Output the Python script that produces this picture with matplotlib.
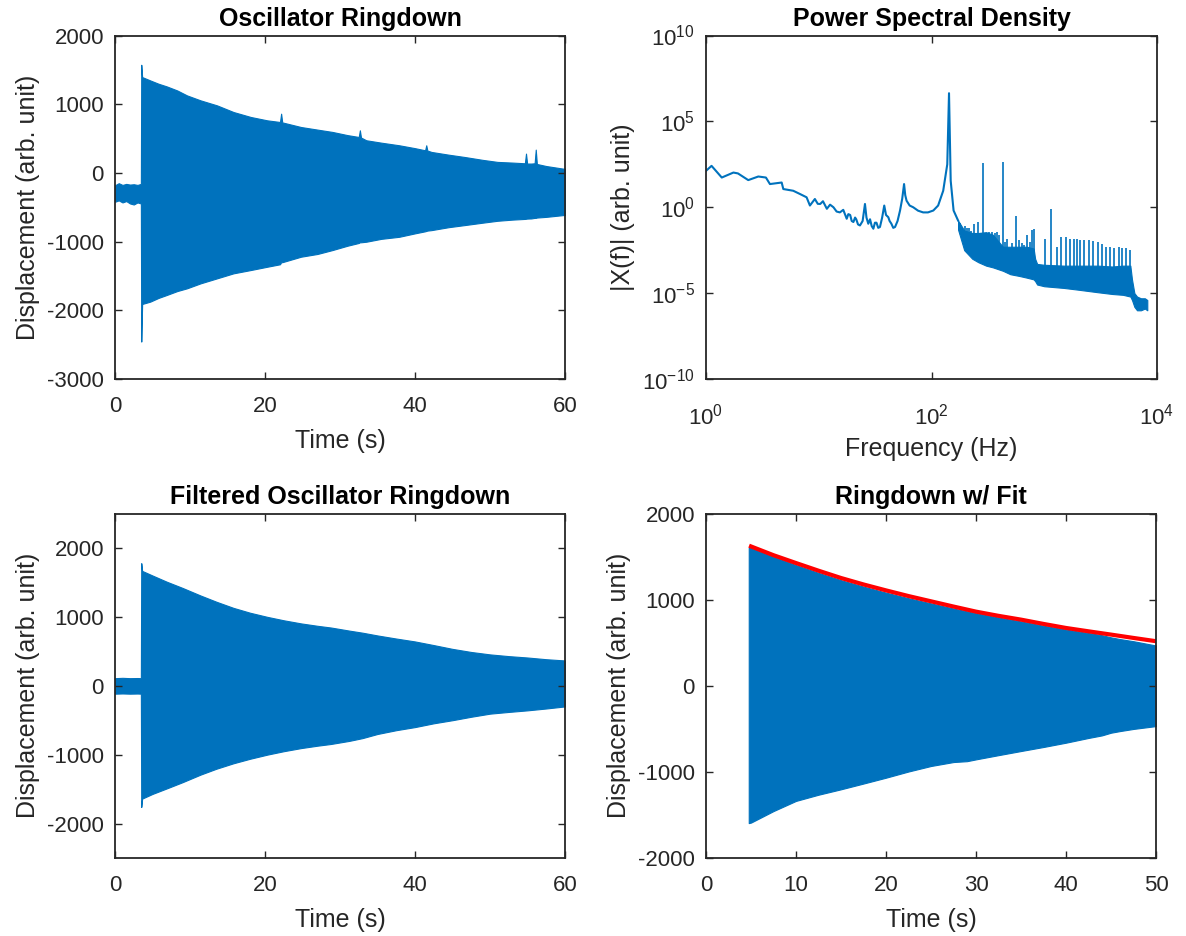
import numpy as np
import matplotlib
matplotlib.use("Agg")
import matplotlib.pyplot as plt

plt.rcParams['font.family'] = ['Liberation Sans', 'DejaVu Sans']
plt.rcParams['mathtext.fontset'] = 'custom'
plt.rcParams['mathtext.rm'] = 'Liberation Sans'
plt.rcParams['mathtext.it'] = 'Liberation Sans:italic'
plt.rcParams['mathtext.bf'] = 'Liberation Sans:bold'
plt.rcParams['axes.unicode_minus'] = False

BLUE = '#0072BD'
DARK = '#262626'

# ---------------- Panel 1: raw ringdown (envelope of dense oscillation) -------------
raw_t = [0, 0.5, 1, 1.5, 2, 2.5, 3, 3.45, 3.5, 3.62, 4.7, 5.8, 6.9, 8.3, 9.6, 11.4,
         13.6, 15.8, 18.1, 20.3, 22.0, 22.15, 22.3, 24.8, 27.0, 29.0, 31.0, 32.5,
         32.65, 32.8, 33.5, 35.5, 37.9, 40.0, 41.35, 41.5, 41.65, 42.2, 44.5, 46.6,
         49.0, 51.0, 53.0, 54.65, 54.8, 54.95, 55.5, 55.95, 56.1, 56.25, 57.5, 59.7, 60]
raw_upper = [-180, -150, -175, -160, -170, -165, -175, -160, 1574, 1395, 1346, 1298,
             1259, 1200, 1128, 1056, 983, 886, 814, 765, 741, 862, 735, 668, 630, 596,
             550, 523, 620, 515, 475, 440, 402, 360, 329, 402, 325, 305, 265, 232, 190,
             160, 150, 140, 281, 136, 136, 140, 339, 130, 100, 63, 60]
raw_lower = [-420, -400, -430, -410, -445, -460, -430, -445, -2455, -1908, -1874, -1820,
             -1777, -1720, -1680, -1608, -1535, -1462, -1414, -1366, -1330, -1300, -1300,
             -1220, -1180, -1123, -1060, -1020, -1010, -1010, -1002, -960, -930, -880,
             -850, -845, -840, -833, -790, -760, -725, -697, -680, -670, -668, -665,
             -663, -655, -655, -650, -640, -615, -612]

# ---------------- Panel 2: PSD ----------------------------------------------------
psd_f = [1.0, 1.12, 1.38, 1.75, 1.92, 2.37, 2.91, 3.4, 3.69, 4.69, 4.85, 5.94, 6.82,
         7.8, 8.35, 9.24, 9.8, 10.3, 10.9, 11.8, 12.6, 13.5, 14.4, 15.4, 16.5, 17.7,
         18.3, 19.0, 19.6, 20.3, 21.0, 21.5, 22.3, 23.2, 24.0, 24.5, 25.7, 26.5, 27.5,
         28.5, 29.5, 30.5, 31.5, 32.5, 33.7, 34.9, 36.5, 38.1, 39.5, 41.4, 42.5, 44.0,
         45.8, 47.5, 50.0, 52.6, 55.0, 57.1, 58.5, 60.1, 64.0, 68.8, 76.0, 84.3, 93.0,
         103.8, 114.5, 127, 138, 143, 148, 157, 172]
psd_log = [2.12, 2.41, 1.73, 2.02, 1.97, 1.58, 1.79, 1.73, 1.35, 1.44, 1.06, 0.96, 0.77,
           0.58, 0.10, 0.48, 0.20, 0.19, 0.35, -0.09, 0.15, 0.0, -0.25, -0.30, -0.15,
           -0.67, -0.40, -0.45, -0.80, -0.86, -0.60, -0.70, -1.00, -1.06, -0.90, -0.80,
           0.19, -0.60, -0.96, -0.70, -1.10, -1.25, -0.90, -0.90, -1.20, -1.15, -0.60,
           0.10, -0.45, -0.58, -0.80, -0.95, -1.20, -1.15, -0.80, -0.19, 0.50, 1.35,
           0.70, 0.38, 0.10, 0.0, -0.20, -0.30, -0.30, -0.19, 0.10, 0.96, 2.50, 6.64,
           1.54, -0.19, -0.77]

band_f = [172, 195, 230, 260, 305, 350, 430, 500, 600, 700, 805, 830, 865, 1000, 1500,
          2000, 3000, 4000, 5000, 5800, 6000, 6300, 6650, 7200, 7800, 8200]
band_hi = [-0.77, -1.35, -1.50, -1.50, -1.45, -1.60, -2.30, -2.30, -2.30, -2.30, -2.40,
           -3.00, -3.30, -3.35, -3.40, -3.40, -3.40, -3.45, -3.40, -3.40, -4.20, -5.00,
           -5.20, -5.30, -5.30, -5.40]
band_lo = [-1.30, -2.50, -3.00, -3.20, -3.40, -3.50, -3.70, -3.90, -4.00, -4.10, -4.20,
           -4.30, -4.50, -4.60, -4.70, -4.80, -4.95, -5.05, -5.10, -5.20, -5.40, -5.80,
           -6.00, -6.00, -5.90, -6.00]

spike_f = [180, 200, 205, 215, 225, 240, 259, 275, 287, 300, 322, 345, 365, 382, 400,
           429, 450, 469, 520, 566, 600, 636, 660, 702, 740, 781, 805,
           1009, 1156, 1300, 1420, 1560, 1706, 1830, 1960, 2095, 2245, 2490, 2720, 2990,
           3270, 3550, 3800, 4150, 4600, 4930, 5350, 5770]
spike_log = [-0.90, -1.10, -1.20, -1.20, -1.40, -1.00, -0.87, -1.50, 2.60, -1.50, -1.44,
             -1.44, -1.50, -1.44, -1.60, 2.63, -2.00, -1.83, -2.10, -0.52, -1.90, -2.10,
             -2.20, -1.63, -2.00, -1.35, -1.25,
             -1.83, -0.13, -2.30, -1.73, -1.73, -1.83, -1.83, -1.83, -1.88, -1.92, -1.88,
             -1.96, -2.02, -2.12, -2.30, -2.30, -2.40, -2.30, -2.40, -2.40, -2.50]

# ---------------- Panel 3: filtered ringdown --------------------------------------
filt_t = [0, 1, 2, 3, 3.45, 3.5, 3.62, 5, 6.9, 9, 11.4, 13.5, 15.8, 18, 20.3, 22.5,
          24.8, 27, 28.8, 31.25, 33, 35, 37.5, 40, 42.5, 45, 47.5, 50, 52.5, 55, 57.5, 60]
filt_upper = [110, 115, 110, 112, 110, 1779, 1667, 1600, 1510, 1420, 1310, 1220, 1130,
              1060, 1000, 950, 905, 870, 845, 800, 770, 730, 685, 643, 590, 535, 490,
              455, 430, 410, 385, 367]
filt_lower = [-115, -112, -115, -113, -115, -1759, -1638, -1570, -1490, -1400, -1290,
              -1205, -1125, -1060, -1000, -950, -905, -870, -845, -800, -760, -700, -645,
              -600, -545, -500, -450, -405, -380, -357, -330, -300]

# ---------------- Panel 4: ringdown with fit --------------------------------------
fit_data_t = [4.75, 5, 7.5, 10, 12.5, 15, 17.5, 20, 22.5, 25, 27.5, 29, 30, 32.5, 35,
              37.5, 40, 42.5, 44, 45, 46, 47.5, 50]
fit_data_upper = [1600, 1600, 1495, 1400, 1310, 1225, 1150, 1080, 1015, 955, 895, 862,
                  840, 790, 745, 695, 650, 610, 585, 560, 540, 515, 465]
fit_data_lower = [-1600, -1594, -1460, -1342, -1270, -1207, -1140, -1072, -1000, -936,
                  -890, -880, -859, -810, -762, -715, -665, -610, -580, -549, -530, -505,
                  -472]
fit_t = [5, 7.5, 10, 12.5, 15, 17.5, 20, 22.5, 25, 27.5, 30, 32.5, 35, 37.5, 40, 42.5,
         45, 47.5, 50]
fit_y = [1617, 1515, 1424, 1335, 1250, 1175, 1106, 1040, 979, 918, 859, 810, 766, 716,
         669, 630, 592, 553, 515]

# ---------------------------------------------------------------------------------
W, H = 1186, 936
fig = plt.figure(figsize=(W / 100, H / 100), dpi=100)


def frac(x0, y0, x1, y1):
    return [x0 / W, 1 - y1 / H, (x1 - x0) / W, (y1 - y0) / H]


ax1 = fig.add_axes(frac(115, 35.5, 565, 379))
ax2 = fig.add_axes(frac(706, 35.5, 1157, 379))
ax3 = fig.add_axes(frac(115, 513.5, 565, 858))
ax4 = fig.add_axes(frac(706, 513.5, 1156, 857.5))

FS_TICK = 16
FS_LAB = 18


def style(ax, title, xlabel, ylabel, xpad=12.5, xlabelpad=8.5):
    ax.set_title(title, fontsize=FS_LAB, fontweight='bold', color='black', pad=7)
    ax.set_xlabel(xlabel, fontsize=FS_LAB, color=DARK, labelpad=xlabelpad)
    ax.set_ylabel(ylabel, fontsize=FS_LAB, color=DARK, labelpad=5)
    ax.tick_params(which='both', direction='in', top=True, right=True, length=5,
                   width=1.0, colors=DARK, labelsize=FS_TICK)
    ax.tick_params(axis='x', pad=xpad)
    ax.tick_params(axis='y', pad=8)
    for s in ax.spines.values():
        s.set_linewidth(1.3)
        s.set_color(DARK)


# Panel 1
ax1.fill_between(raw_t, raw_lower, raw_upper, color=BLUE, linewidth=0.8, edgecolor=BLUE)
ax1.set_xlim(0, 60)
ax1.set_ylim(-3000, 2000)
ax1.set_xticks([0, 20, 40, 60])
ax1.set_yticks([-3000, -2000, -1000, 0, 1000, 2000])
style(ax1, 'Oscillator Ringdown', 'Time (s)', 'Displacement (arb. unit)')

# Panel 2
bf = np.array(band_f, dtype=float)
ax2.fill_between(bf, 10.0 ** np.array(band_lo), 10.0 ** np.array(band_hi),
                 color=BLUE, linewidth=0.8, edgecolor=BLUE)
ax2.plot(psd_f, 10.0 ** np.array(psd_log), color=BLUE, linewidth=1.5)
sf = np.array(spike_f, dtype=float)
base = np.interp(np.log10(sf), np.log10(bf),
                 (np.array(band_hi) + np.array(band_lo)) / 2)
ax2.vlines(sf, 10.0 ** base, 10.0 ** np.array(spike_log), color=BLUE, linewidth=1.2)
ax2.set_xscale('log')
ax2.set_yscale('log')
ax2.set_xlim(1, 1e4)
ax2.set_ylim(1e-10, 1e10)
ax2.set_xticks([1, 1e2, 1e4])
ax2.set_yticks([1e-10, 1e-5, 1e0, 1e5, 1e10])
ax2.minorticks_off()
style(ax2, 'Power Spectral Density', 'Frequency (Hz)', '|X(f)| (arb. unit)',
      xpad=18, xlabelpad=5)

# Panel 3
ax3.fill_between(filt_t, filt_lower, filt_upper, color=BLUE, linewidth=0.8, edgecolor=BLUE)
ax3.set_xlim(0, 60)
ax3.set_ylim(-2500, 2500)
ax3.set_xticks([0, 20, 40, 60])
ax3.set_yticks([-2000, -1000, 0, 1000, 2000])
style(ax3, 'Filtered Oscillator Ringdown', 'Time (s)', 'Displacement (arb. unit)')

# Panel 4
ax4.fill_between(fit_data_t, fit_data_lower, fit_data_upper, color=BLUE,
                 linewidth=0.8, edgecolor=BLUE)
ax4.plot(fit_t, fit_y, color='#FF0000', linewidth=3)
ax4.set_xlim(0, 50)
ax4.set_ylim(-2000, 2000)
ax4.set_xticks([0, 10, 20, 30, 40, 50])
ax4.set_yticks([-2000, -1000, 0, 1000, 2000])
style(ax4, 'Ringdown w/ Fit', 'Time (s)', 'Displacement (arb. unit)')

fig.savefig('out.png', dpi=100)
